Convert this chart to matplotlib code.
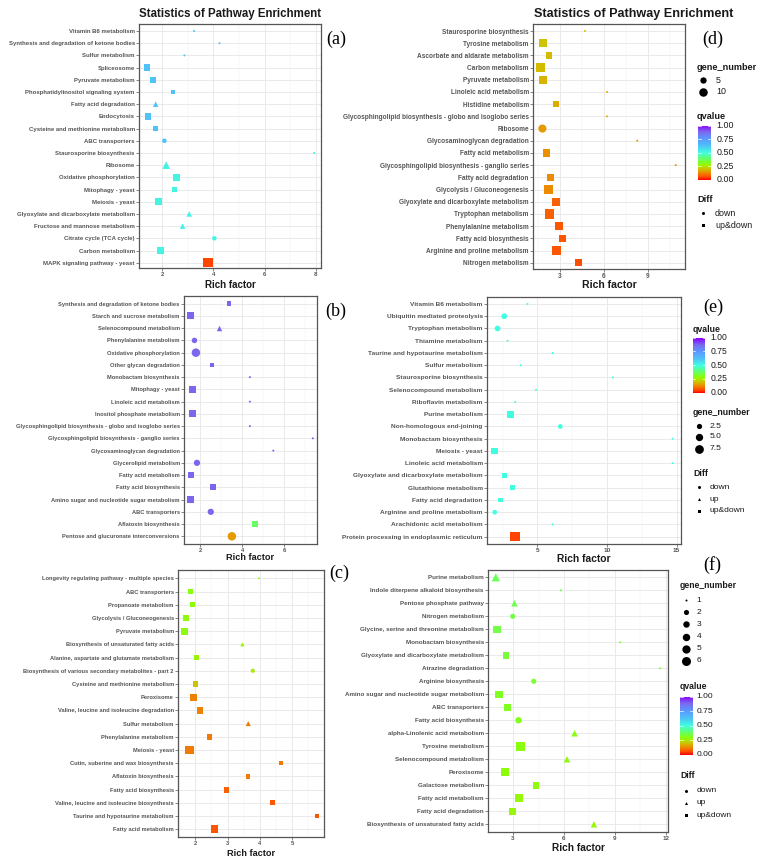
import numpy as np
import matplotlib
matplotlib.use("Agg")
import matplotlib.pyplot as plt
from matplotlib.colors import LinearSegmentedColormap

plt.rcParams['font.family'] = ['Liberation Sans', 'DejaVu Sans']

# ---------------- data ----------------
a_pathways = ["Vitamin B6 metabolism", "Synthesis and degradation of ketone bodies", "Sulfur metabolism",
              "Spliceosome", "Pyruvate metabolism", "Phosphatidylinositol signaling system",
              "Fatty acid degradation", "Endocytosis", "Cysteine and methionine metabolism", "ABC transporters",
              "Staurosporine biosynthesis", "Ribosome", "Oxidative phosphorylation", "Mitophagy - yeast",
              "Meiosis - yeast", "Glyoxylate and dicarboxylate metabolism", "Fructose and mannose metabolism",
              "Citrate cycle (TCA cycle)", "Carbon metabolism", "MAPK signaling pathway - yeast"]
a_rich = [3.25, 4.24, 2.87, 1.41, 1.65, 2.43, 1.75, 1.45, 1.75, 2.09, 7.93, 2.16, 2.56, 2.48, 1.88, 3.06,
          2.80, 4.04, 1.94, 3.79]
a_genes = [1, 1, 1, 4, 3, 2, 3, 4, 2, 2, 1, 6, 4, 3, 5, 3, 3, 2, 5, 10]
a_q = [0.62, 0.62, 0.62, 0.62, 0.62, 0.62, 0.62, 0.62, 0.62, 0.62, 0.52, 0.52, 0.52, 0.52, 0.52, 0.52,
       0.52, 0.52, 0.52, 0.05]
a_diff = ['down', 'down', 'down', 'up&down', 'up&down', 'up&down', 'up', 'up&down', 'up&down', 'down',
          'down', 'up', 'up&down', 'up&down', 'up&down', 'up', 'up', 'down', 'up&down', 'up&down']

b_pathways = ["Synthesis and degradation of ketone bodies", "Starch and sucrose metabolism",
              "Selenocompound metabolism", "Phenylalanine metabolism", "Oxidative phosphorylation",
              "Other glycan degradation", "Monobactam biosynthesis", "Mitophagy - yeast",
              "Linoleic acid metabolism", "Inositol phosphate metabolism",
              "Glycosphingolipid biosynthesis - globo and isoglobo series",
              "Glycosphingolipid biosynthesis - ganglio series", "Glycosaminoglycan degradation",
              "Glycerolipid metabolism", "Fatty acid metabolism", "Fatty acid biosynthesis",
              "Amino sugar and nucleotide sugar metabolism", "ABC transporters", "Aflatoxin biosynthesis",
              "Pentose and glucuronate interconversions"]
b_rich = [3.36, 1.51, 2.91, 1.72, 1.79, 2.56, 4.37, 1.63, 4.37, 1.63, 4.37, 7.38, 5.49, 1.84, 1.56, 2.60,
          1.54, 2.50, 4.62, 3.51]
b_genes = [2, 5, 3, 3, 8, 2, 1, 5, 1, 5, 1, 1, 1, 4, 4, 4, 5, 4, 4, 8]
b_q = [0.88, 0.88, 0.88, 0.88, 0.88, 0.88, 0.88, 0.88, 0.88, 0.88, 0.88, 0.88, 0.88, 0.88, 0.88, 0.88,
       0.88, 0.88, 0.38, 0.15]
b_diff = ['up&down', 'up&down', 'up', 'down', 'down', 'up&down', 'down', 'up&down', 'down', 'up&down',
          'down', 'down', 'down', 'down', 'up&down', 'up&down', 'up&down', 'down', 'up&down', 'down']

c_pathways = ["Longevity regulating pathway - multiple species", "ABC transporters", "Propanoate metabolism",
              "Glycolysis / Gluconeogenesis", "Pyruvate metabolism", "Biosynthesis of unsaturated fatty acids",
              "Alanine, aspartate and glutamate metabolism",
              "Biosynthesis of various secondary metabolites - part 2", "Cysteine and methionine metabolism",
              "Peroxisome", "Valine, leucine and isoleucine degradation", "Sulfur metabolism",
              "Phenylalanine metabolism", "Meiosis - yeast", "Cutin, suberine and wax biosynthesis",
              "Aflatoxin biosynthesis", "Fatty acid biosynthesis", "Valine, leucine and isoleucine biosynthesis",
              "Taurine and hypotaurine metabolism", "Fatty acid metabolism"]
c_rich = [3.97, 1.86, 1.93, 1.71, 1.66, 3.46, 2.05, 3.78, 2.01, 1.95, 2.14, 3.64, 2.44, 1.82, 4.64, 3.64,
          2.97, 4.38, 5.77, 2.60]
c_genes = [1, 3, 3, 5, 6, 2, 3, 2, 4, 6, 5, 3, 4, 10, 2, 2, 4, 3, 2, 8]
c_q = [0.31, 0.30, 0.29, 0.29, 0.29, 0.26, 0.27, 0.25, 0.20, 0.12, 0.12, 0.11, 0.11, 0.11, 0.11, 0.11,
       0.08, 0.07, 0.07, 0.07]
c_diff = ['down', 'up&down', 'up&down', 'up&down', 'up&down', 'up', 'up&down', 'down', 'up&down', 'up&down',
          'up&down', 'up', 'up&down', 'up&down', 'up&down', 'up&down', 'up&down', 'up&down', 'up&down',
          'up&down']

d_pathways = ["Staurosporine biosynthesis", "Tyrosine metabolism", "Ascorbate and aldarate metabolism",
              "Carbon metabolism", "Pyruvate metabolism", "Linoleic acid metabolism", "Histidine metabolism",
              "Glycosphingolipid biosynthesis - globo and isoglobo series", "Ribosome",
              "Glycosaminoglycan degradation", "Fatty acid metabolism",
              "Glycosphingolipid biosynthesis - ganglio series", "Fatty acid degradation",
              "Glycolysis / Gluconeogenesis", "Glyoxylate and dicarboxylate metabolism",
              "Tryptophan metabolism", "Phenylalanine metabolism", "Fatty acid biosynthesis",
              "Arginine and proline metabolism", "Nitrogen metabolism"]
d_rich = [4.70, 1.82, 2.25, 1.66, 1.82, 6.20, 2.75, 6.20, 1.80, 8.27, 2.10, 10.89, 2.36, 2.22, 2.75, 2.30,
          2.93, 3.16, 2.75, 4.25]
d_genes = [1, 8, 5, 13, 9, 1, 4, 1, 9, 1, 7, 1, 7, 9, 8, 12, 8, 7, 11, 7]
d_q = [0.20, 0.20, 0.19, 0.19, 0.18, 0.18, 0.17, 0.17, 0.15, 0.15, 0.14, 0.14, 0.13, 0.13, 0.08, 0.08,
       0.07, 0.07, 0.07, 0.06]
d_diff = ['down', 'up&down', 'up&down', 'up&down', 'up&down', 'down', 'up&down', 'down', 'down', 'down',
          'up&down', 'down', 'up&down', 'up&down', 'up&down', 'up&down', 'up&down', 'up&down', 'up&down',
          'up&down']

e_pathways = ["Vitamin B6 metabolism", "Ubiquitin mediated proteolysis", "Tryptophan metabolism",
              "Thiamine metabolism", "Taurine and hypotaurine metabolism", "Sulfur metabolism",
              "Staurosporine biosynthesis", "Selenocompound metabolism", "Riboflavin metabolism",
              "Purine metabolism", "Non-homologous end-joining", "Monobactam biosynthesis", "Meiosis - yeast",
              "Linoleic acid metabolism", "Glyoxylate and dicarboxylate metabolism", "Glutathione metabolism",
              "Fatty acid degradation", "Arginine and proline metabolism", "Arachidonic acid metabolism",
              "Protein processing in endoplasmic reticulum"]
e_rich = [4.28, 2.61, 2.13, 2.85, 6.08, 3.79, 10.42, 4.90, 3.40, 3.05, 6.64, 14.72, 1.92, 14.72, 2.61,
          3.20, 2.33, 1.93, 6.08, 3.39]
e_genes = [1, 3, 3, 1, 1, 1, 1, 1, 1, 4, 2, 1, 4, 1, 2, 2, 2, 2, 1, 9]
e_q = [0.50, 0.50, 0.50, 0.50, 0.50, 0.50, 0.50, 0.50, 0.50, 0.50, 0.50, 0.50, 0.50, 0.50, 0.50, 0.50,
       0.50, 0.50, 0.50, 0.05]
e_diff = ['down', 'down', 'down', 'down', 'down', 'down', 'down', 'down', 'down', 'up&down', 'down', 'down',
          'up&down', 'down', 'up&down', 'up&down', 'up&down', 'down', 'down', 'up&down']

f_pathways = ["Purine metabolism", "Indole diterpene alkaloid biosynthesis", "Pentose phosphate pathway",
              "Nitrogen metabolism", "Glycine, serine and threonine metabolism", "Monobactam biosynthesis",
              "Glyoxylate and dicarboxylate metabolism", "Atrazine degradation", "Arginine biosynthesis",
              "Amino sugar and nucleotide sugar metabolism", "ABC transporters", "Fatty acid biosynthesis",
              "alpha-Linolenic acid metabolism", "Tyrosine metabolism", "Selenocompound metabolism",
              "Peroxisome", "Galactose metabolism", "Fatty acid metabolism", "Fatty acid degradation",
              "Biosynthesis of unsaturated fatty acids"]
f_rich = [1.98, 5.82, 3.08, 2.98, 2.04, 9.32, 2.57, 11.66, 4.22, 2.17, 2.66, 3.32, 6.63, 3.44, 6.18, 2.51,
          4.34, 3.35, 2.98, 7.77]
f_genes = [5, 1, 3, 2, 4, 1, 3, 1, 2, 4, 3, 3, 3, 6, 3, 5, 3, 5, 4, 3]
f_q = [0.37, 0.36, 0.36, 0.35, 0.35, 0.34, 0.34, 0.33, 0.33, 0.32, 0.32, 0.31, 0.30, 0.30, 0.29, 0.29,
       0.29, 0.28, 0.28, 0.28]
f_diff = ['up', 'down', 'up', 'down', 'up&down', 'down', 'up&down', 'down', 'down', 'up&down', 'up&down',
          'down', 'up', 'up&down', 'up', 'up&down', 'up&down', 'up&down', 'up&down', 'up']

qvalue_ticks = [0.00, 0.25, 0.50, 0.75, 1.00]
diff_levels = ['down', 'up', 'up&down']

# ---------------- styling / layout ----------------
W, H = 763, 868
fig = plt.figure(figsize=(W / 100, H / 100), dpi=100)
fig.patch.set_facecolor('white')

cmap = LinearSegmentedColormap.from_list('qv', [
    (0.00, '#FF0000'), (0.05, '#FF4800'), (0.10, '#F57200'), (0.15, '#E59C00'),
    (0.20, '#CCC400'), (0.25, '#A8EC00'), (0.30, '#88FF10'), (0.38, '#66FF66'),
    (0.50, '#40FFE0'), (0.62, '#4FC3F7'), (0.75, '#5A9AFF'), (0.88, '#7B68EE'),
    (1.00, '#8A00FF')])

MARK = {'down': 'o', 'up': '^', 'up&down': 's'}
PX2PT = 0.72


def diam(g, dmax, gmax):
    return 2.0 + (dmax - 2.0) * np.sqrt(max(g - 1, 0) / (gmax - 1))


panels = [
    dict(data=(a_pathways, a_rich, a_genes, a_q, a_diff), rect=(139, 24, 321, 268), rows=(31, 262.7),
         xlim=(1.1, 8.2), xticks=[2, 4, 6, 8], lfs=4.3, xl_y=285, xl_fs=7.0, dmax=9.5, gmax=10),
    dict(data=(b_pathways, b_rich, b_genes, b_q, b_diff), rect=(184, 296, 317, 544), rows=(303.7, 536.3),
         xlim=(1.22, 7.58), xticks=[2, 4, 6], lfs=4.15, xl_y=558, xl_fs=6.6, dmax=8.5, gmax=8),
    dict(data=(c_pathways, c_rich, c_genes, c_q, c_diff), rect=(178, 570, 324, 837), rows=(578.3, 829.3),
         xlim=(1.47, 5.98), xticks=[2, 3, 4, 5], lfs=4.17, xl_y=853, xl_fs=6.6, dmax=8.5, gmax=10),
    dict(data=(d_pathways, d_rich, d_genes, d_q, d_diff), rect=(533, 24, 685, 269), rows=(31, 262.7),
         xlim=(1.16, 11.52), xticks=[3, 6, 9], lfs=4.7, xl_y=285, xl_fs=7.6, dmax=9.5, gmax=13),
    dict(data=(e_pathways, e_rich, e_genes, e_q, e_diff), rect=(487, 297, 681, 544), rows=(304, 536.7),
         xlim=(1.37, 15.32), xticks=[5, 10, 15], lfs=4.65, xl_y=559, xl_fs=7.4, dmax=9.5, gmax=9),
    dict(data=(f_pathways, f_rich, f_genes, f_q, f_diff), rect=(488, 570, 668, 832), rows=(577.3, 824.3),
         xlim=(1.52, 12.14), xticks=[3, 6, 9, 12], lfs=4.5, xl_y=848, xl_fs=7.3, dmax=9.0, gmax=6),
]

for P in panels:
    names, rich, genes, q, diff = P['data']
    l, t, r, b = P['rect']
    ax = fig.add_axes([l / W, 1 - b / H, (r - l) / W, (b - t) / H])
    n = len(names)
    ypos = np.arange(n)[::-1]
    y1, yn = P['rows']
    upp = (n - 1) / (yn - y1)
    ax.set_ylim(-(b - yn) * upp, (n - 1) + (y1 - t) * upp)
    ax.set_xlim(*P['xlim'])
    ticks = P['xticks']
    step = ticks[1] - ticks[0]
    for m in np.arange(ticks[0] - step / 2, P['xlim'][1], step):
        if m > P['xlim'][0]:
            ax.axvline(m, color='#F0F0F0', lw=0.35, zorder=0)
    for mj in ticks:
        ax.axvline(mj, color='#E6E6E6', lw=0.6, zorder=0)
    for yy in ypos:
        ax.axhline(yy, color='#E6E6E6', lw=0.6, zorder=0)
    for kind in diff_levels:
        idx = [i for i in range(n) if diff[i] == kind]
        if not idx:
            continue
        xs = [rich[i] for i in idx]
        ys = [ypos[i] for i in idx]
        ss = [(diam(genes[i], P['dmax'], P['gmax']) * PX2PT) ** 2 for i in idx]
        cs = [q[i] for i in idx]
        ax.scatter(xs, ys, s=ss, c=cs, cmap=cmap, vmin=0, vmax=1, marker=MARK[kind], linewidths=0, zorder=3)
    ax.set_yticks(ypos)
    ax.set_yticklabels(names, fontsize=P['lfs'], fontweight='bold', color='#555555')
    ax.set_xticks(ticks)
    ax.set_xticklabels([str(v) for v in ticks], fontsize=P['lfs'], fontweight='bold', color='#555555')
    ax.tick_params(axis='both', length=2, width=0.5, color='#555555', pad=1)
    for sp in ax.spines.values():
        sp.set_color('#555555')
        sp.set_linewidth(0.9)
    P['ax'] = ax

# overlay for texts / legends in pixel coordinates
ov = fig.add_axes([0, 0, 1, 1])
ov.set_xlim(0, W)
ov.set_ylim(H, 0)
ov.axis('off')
ov.patch.set_alpha(0)

for P in panels:
    l, t, r, b = P['rect']
    ov.text((l + r) / 2, P['xl_y'], "Rich factor", ha='center', va='center', fontsize=P['xl_fs'],
            fontweight='bold', color='#1a1a1a')

ov.text(139, 14, "Statistics of Pathway Enrichment", ha='left', va='center', fontsize=8.3, fontweight='bold',
        color='#1a1a1a')
ov.text(534, 14, "Statistics of Pathway Enrichment", ha='left', va='center', fontsize=9.1, fontweight='bold',
        color='#1a1a1a')

serif = ['Liberation Serif', 'DejaVu Serif']
for lab, x, y in [("(a)", 336, 39), ("(b)", 336, 311), ("(c)", 339, 573),
                  ("(d)", 713, 39), ("(e)", 713, 307), ("(f)", 712, 565)]:
    ov.text(x, y, lab, ha='center', va='center', fontsize=13, family=serif, color='black')


def colorbar(x0, x1, ytop, ybot, lx, fs):
    cax = fig.add_axes([x0 / W, 1 - ybot / H, (x1 - x0) / W, (ybot - ytop) / H])
    grad = np.linspace(1, 0, 300)[:, None]
    cax.imshow(grad, aspect='auto', cmap=cmap, vmin=0, vmax=1, extent=[0, 1, 0, 1])
    cax.set_xlim(0, 1)
    cax.set_ylim(0, 1)
    for v in qvalue_ticks:
        cax.plot([0, 0.2], [v, v], color='white', lw=0.5)
        cax.plot([0.8, 1], [v, v], color='white', lw=0.5)
        y = ybot - v * (ybot - ytop)
        ov.text(lx, y, f"{v:.2f}", ha='left', va='center', fontsize=fs, color='#1a1a1a')
    cax.axis('off')


def size_legend(title, tx, ty, vals, ys, mx, lx, dmax, gmax, fs):
    ov.text(tx, ty, title, ha='left', va='center', fontsize=fs, fontweight='bold', color='#1a1a1a')
    for v, y in zip(vals, ys):
        ov.scatter([mx], [y], s=(diam(v, dmax, gmax) * PX2PT) ** 2, c='black', marker='o', linewidths=0)
        lab = (f"{v:.1f}" if isinstance(v, float) else str(v))
        ov.text(lx, y, lab, ha='left', va='center', fontsize=fs - 0.2, color='#1a1a1a')


def diff_legend(tx, ty, kinds, ys, mx, lx, fs):
    ov.text(tx, ty, "Diff", ha='left', va='center', fontsize=fs, fontweight='bold', color='#1a1a1a')
    for k, y in zip(kinds, ys):
        ov.scatter([mx], [y], s=(3.0 * PX2PT) ** 2, c='black', marker=MARK[k], linewidths=0)
        ov.text(lx, y, k, ha='left', va='center', fontsize=fs - 0.2, color='#1a1a1a')


# legend (d)
size_legend("gene_number", 697, 67, [5, 10], [80.3, 91.7], 703, 716, 9.5, 13, 6.6)
ov.text(697, 116.7, "qvalue", ha='left', va='center', fontsize=6.6, fontweight='bold', color='#1a1a1a')
colorbar(698, 711, 125.7, 180, 716.7, 6.4)
diff_legend(697, 200, ['down', 'up&down'], [213.3, 225.3], 703, 715, 6.6)

# legend (e)
ov.text(693, 329, "qvalue", ha='left', va='center', fontsize=6.3, fontweight='bold', color='#1a1a1a')
colorbar(693, 705, 337.7, 392.7, 710.7, 6.2)
size_legend("gene_number", 693, 412.7, [2.5, 5.0, 7.5], [426, 436.7, 449], 699, 710, 9.5, 9, 6.3)
diff_legend(693, 473.3, diff_levels, [487.3, 499.3, 510.7], 699, 710, 6.3)

# legend (f)
size_legend("gene_number", 680, 585.7, [1, 2, 3, 4, 5, 6], [600, 612.3, 624.3, 636.7, 648.7, 660.7],
            686, 696.7, 9.0, 6, 6.2)
ov.text(680, 686.7, "qvalue", ha='left', va='center', fontsize=6.2, fontweight='bold', color='#1a1a1a')
colorbar(680, 692.7, 696.7, 755, 696.7, 6.1)
diff_legend(680, 776, diff_levels, [790.7, 803, 815.3], 686, 696.7, 6.2)

fig.savefig("out.png", dpi=100, facecolor='white')
